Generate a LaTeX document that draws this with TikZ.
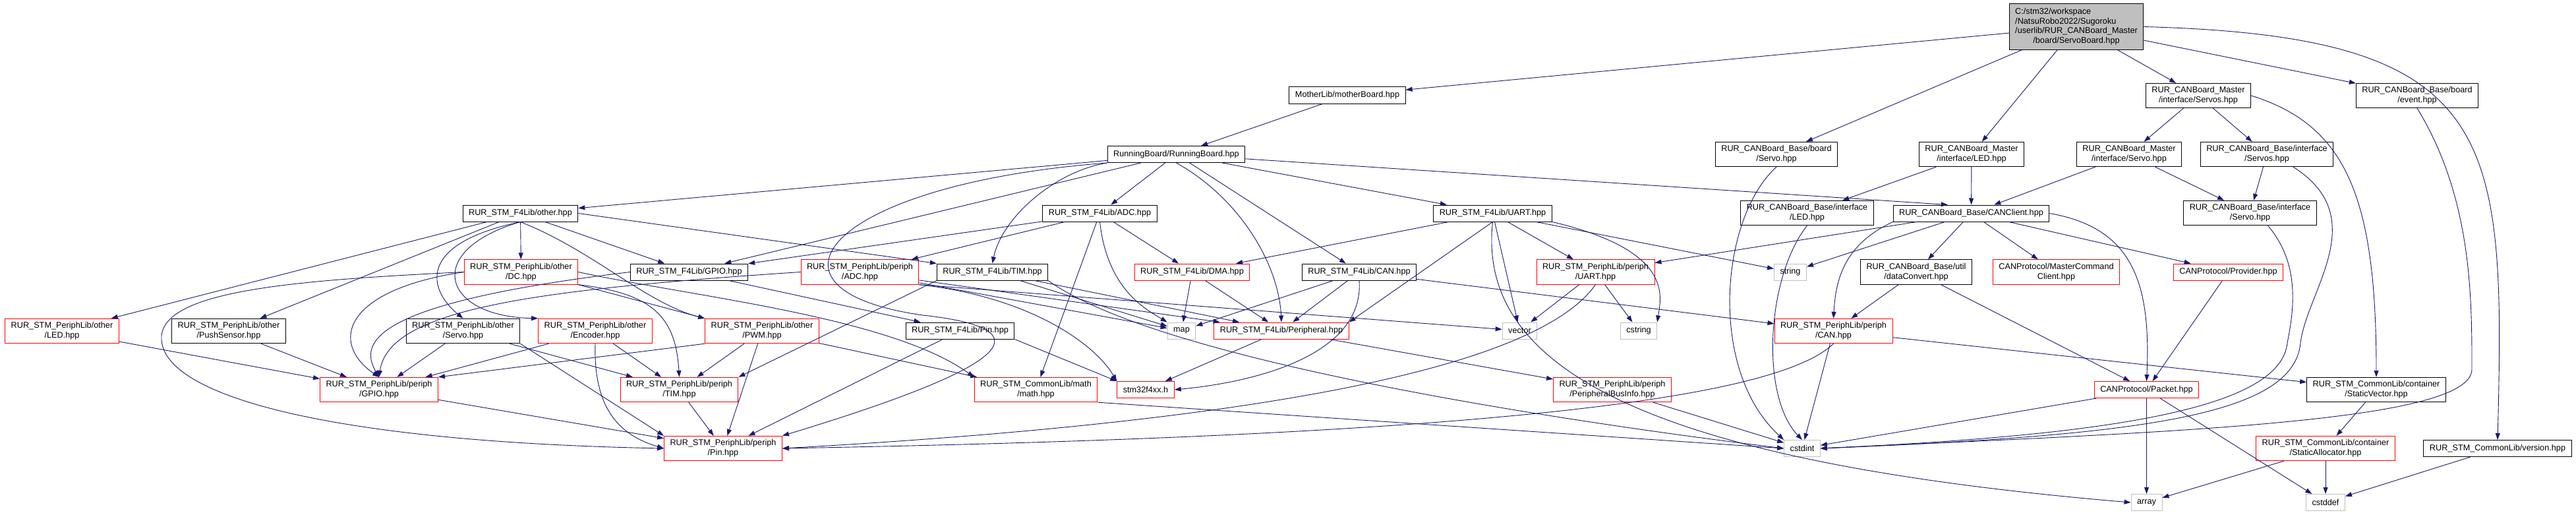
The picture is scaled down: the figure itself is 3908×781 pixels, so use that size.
\documentclass[tikz,border=0pt]{standalone}
\usepackage{fontspec}
\setmainfont{Liberation Sans}
\definecolor{EdgeBlue}{HTML}{191970}
\definecolor{SysGray}{HTML}{BFBFBF}
\definecolor{RootFill}{HTML}{BFBFBF}
\usepackage{tikz}
\usetikzlibrary{arrows.meta}
\tikzset{
  fnode/.style={draw=black, fill=white, line width=1pt, align=center, inner xsep=9pt, inner ysep=5.4pt, minimum height=25pt, font=\fontsize{12.7}{14.7}\selectfont},
  rnode/.style={fnode, draw=red},
  snode/.style={fnode, draw=SysGray},
  dep/.style={-{Triangle[length=10pt,width=7pt]}, draw=EdgeBlue, line width=0.9pt}
}

\begin{document}
\begin{tikzpicture}[x=1pt, y=-1pt]
\useasboundingbox (0,0) rectangle (3908,781);

\node[fnode, fill=RootFill] (root) at (3150,40.5) {\begin{tabular}{@{}l@{}}C:/stm32/workspace\\/NatsuRobo2022/Sugoroku\\/userlib/RUR\_CANBoard\_Master\\\multicolumn{1}{@{}c@{}}{/board/ServoBoard.hpp}\end{tabular}};

\node[fnode] (motherboard) at (2044,144.5) {MotherLib/motherBoard.hpp};
\node[fnode] (masterservos) at (3335,145) {RUR\_CANBoard\_Master\\/interface/Servos.hpp};
\node[fnode] (event) at (3667,145) {RUR\_CANBoard\_Base/board\\/event.hpp};

\node[fnode] (runningboard) at (1784.5,234) {RunningBoard/RunningBoard.hpp};
\node[fnode] (baseboardservo) at (2695,234) {RUR\_CANBoard\_Base/board\\/Servo.hpp};
\node[fnode] (masterled) at (2991,234) {RUR\_CANBoard\_Master\\/interface/LED.hpp};
\node[fnode] (masterservo) at (3230,234) {RUR\_CANBoard\_Master\\/interface/Servo.hpp};
\node[fnode] (baseservos) at (3439,234) {RUR\_CANBoard\_Base/interface\\/Servos.hpp};

\node[fnode] (other) at (789.5,323.5) {RUR\_STM\_F4Lib/other.hpp};
\node[fnode] (adcf4) at (1668.5,323.5) {RUR\_STM\_F4Lib/ADC.hpp};
\node[fnode] (uartf4) at (2264.5,323.5) {RUR\_STM\_F4Lib/UART.hpp};
\node[fnode] (baseled) at (2741.5,323) {RUR\_CANBoard\_Base/interface\\/LED.hpp};
\node[fnode] (canclient) at (2990.5,323.5) {RUR\_CANBoard\_Base/CANClient.hpp};
\node[fnode] (baseservo) at (3413.5,323) {RUR\_CANBoard\_Base/interface\\/Servo.hpp};

\node[rnode] (dc) at (790.5,412.5) {RUR\_STM\_PeriphLib/other\\/DC.hpp};
\node[fnode] (gpiof4) at (1045.5,412.5) {RUR\_STM\_F4Lib/GPIO.hpp};
\node[rnode] (adcp) at (1304.5,412.5) {RUR\_STM\_PeriphLib/periph\\/ADC.hpp};
\node[fnode] (timf4) at (1505.5,412.5) {RUR\_STM\_F4Lib/TIM.hpp};
\node[rnode] (dma) at (1808.5,412.5) {RUR\_STM\_F4Lib/DMA.hpp};
\node[fnode] (canf4) at (2062,412.5) {RUR\_STM\_F4Lib/CAN.hpp};
\node[rnode] (uartp) at (2420.5,412.5) {RUR\_STM\_PeriphLib/periph\\/UART.hpp};
\node[snode] (string) at (2716,412.5) {string};
\node[fnode] (dataconvert) at (2907,412.5) {RUR\_CANBoard\_Base/util\\/dataConvert.hpp};
\node[rnode] (mastercmd) at (3119.5,412.5) {CANProtocol/MasterCommand\\Client.hpp};
\node[rnode] (provider) at (3380.5,412.5) {CANProtocol/Provider.hpp};

\node[rnode] (ledo) at (94,502) {RUR\_STM\_PeriphLib/other\\/LED.hpp};
\node[fnode] (push) at (347,502) {RUR\_STM\_PeriphLib/other\\/PushSensor.hpp};
\node[fnode] (servoo) at (702.5,502) {RUR\_STM\_PeriphLib/other\\/Servo.hpp};
\node[rnode] (encoder) at (903,502) {RUR\_STM\_PeriphLib/other\\/Encoder.hpp};
\node[rnode] (pwm) at (1156,502) {RUR\_STM\_PeriphLib/other\\/PWM.hpp};
\node[fnode] (pinf4) at (1456.5,501.5) {RUR\_STM\_F4Lib/Pin.hpp};
\node[snode] (map) at (1792.5,501.5) {map};
\node[rnode] (peripheral) at (1944,501.5) {RUR\_STM\_F4Lib/Peripheral.hpp};
\node[snode] (vector) at (2305.5,501.5) {vector};
\node[snode] (cstring) at (2486,501.5) {cstring};
\node[rnode] (canp) at (2781.5,502) {RUR\_STM\_PeriphLib/periph\\/CAN.hpp};

\node[rnode] (gpiop) at (575,591) {RUR\_STM\_PeriphLib/periph\\/GPIO.hpp};
\node[rnode] (timp) at (1030.5,591) {RUR\_STM\_PeriphLib/periph\\/TIM.hpp};
\node[rnode] (math) at (1571.5,591) {RUR\_STM\_CommonLib/math\\/math.hpp};
\node[rnode] (stm) at (1738,591) {stm32f4xx.h};
\node[rnode] (businfo) at (2446,591) {RUR\_STM\_PeriphLib/periph\\/PeripheralBusInfo.hpp};
\node[rnode] (packet) at (3256.5,591) {CANProtocol/Packet.hpp};
\node[fnode] (staticvector) at (3605,591) {RUR\_STM\_CommonLib/container\\/StaticVector.hpp};

\node[rnode] (pinp) at (1097,680) {RUR\_STM\_PeriphLib/periph\\/Pin.hpp};
\node[snode] (cstdint) at (2734,680) {cstdint};
\node[rnode] (staticalloc) at (3528,680) {RUR\_STM\_CommonLib/container\\/StaticAllocator.hpp};
\node[fnode] (version) at (3789,680) {RUR\_STM\_CommonLib/version.hpp};

\node[snode] (array) at (3256.5,762) {array};
\node[snode] (cstddef) at (3528,762) {cstddef};

\draw[dep] (root) -- (motherboard);
\draw[dep] (root) -- (baseboardservo);
\draw[dep] (root) -- (masterled);
\draw[dep] (root) -- (masterservos);
\draw[dep] (root) -- (event);
\draw[dep] (root.east) .. controls (3790,55) and (3801,200) .. (version.north);
\draw[dep] (motherboard) -- (runningboard);

\draw[dep] (runningboard) -- (other);
\draw[dep] (runningboard) -- (gpiof4);
\draw[dep] (runningboard.south west) .. controls (1250,280) and (1130,440) .. (1400,478) .. controls (1600,500) and (1520,560) .. (pinp.north east);
\draw[dep] (runningboard.south west) .. controls (1600,260) and (1520,330) .. (timf4.north);
\draw[dep] (runningboard) -- (adcf4);
\draw[dep] (runningboard.south) .. controls (1880,300) and (1940,400) .. (peripheral.north);
\draw[dep] (runningboard) -- (canf4);
\draw[dep] (runningboard) -- (uartf4);
\draw[dep] (runningboard) -- (canclient.160);

\draw[dep] (masterservos) -- (masterservo);
\draw[dep] (masterservos) -- (baseservos);
\draw[dep] (masterservos.east) .. controls (3560,190) and (3605,300) .. (staticvector.north);
\draw[dep] (event.south) .. controls (3750,300) and (3750,450) .. (3750,560) .. controls (3750,640) and (3300,655) .. (cstdint.east);
\draw[dep] (version) -- (cstddef);
\draw[dep] (masterled) -- (baseled);
\draw[dep] (masterled) -- (canclient);
\draw[dep] (masterservo) -- (canclient);
\draw[dep] (masterservo) -- (baseservo);
\draw[dep] (baseservos) -- (baseservo);
\draw[dep] ([xshift=40pt]baseservos.south) .. controls (3600,330) and (3500,440) .. (3490,520) .. controls (3480,630) and (3250,660) .. (cstdint.east);
\draw[dep] ([xshift=27pt]baseservo.south) .. controls (3490,400) and (3480,470) .. (3470,520) .. controls (3460,620) and (3200,660) .. (cstdint.east);
\draw[dep] (baseboardservo.south) .. controls (2610,330) and (2590,560) .. (cstdint.north west);
\draw[dep] (baseled.south) .. controls (2680,420) and (2670,600) .. (cstdint.north);

\draw[dep] (canclient) -- (string);
\draw[dep] (canclient) -- (uartp);
\draw[dep] (canclient) -- (dataconvert);
\draw[dep] (canclient.south west) .. controls (2800,370) and (2785,420) .. (canp.north);
\draw[dep] (canclient) -- (mastercmd);
\draw[dep] (canclient) -- (provider);
\draw[dep] (canclient.east) .. controls (3230,345) and (3264,420) .. (packet.north);
\draw[dep] (dataconvert) -- (canp);
\draw[dep] (dataconvert) -- (packet);
\draw[dep] (provider) -- (packet);
\draw[dep] (canp) -- (cstdint);
\draw[dep] (canp.south) .. controls (2700,600) and (2300,660) .. (pinp.east);
\draw[dep] (canp) -- (staticvector);
\draw[dep] (packet) -- (array);
\draw[dep] (packet) -- (cstddef);
\draw[dep] (packet) -- (cstdint);
\draw[dep] (staticvector) -- (staticalloc);
\draw[dep] (staticalloc) -- (array);
\draw[dep] (staticalloc) -- (cstddef);

\draw[dep] (uartf4) -- (uartp);
\draw[dep] (uartf4) -- (vector);
\draw[dep] (uartf4.south east) .. controls (2540,380) and (2520,450) .. (cstring.north east);
\draw[dep] (uartf4) -- (string);
\draw[dep] (uartf4.south) -- (peripheral.north east);
\draw[dep] (uartf4) -- (dma);
\draw[dep] (uartf4.south) .. controls (2240,560) and (2500,700) .. (array.west);
\draw[dep] (uartp) -- (vector);
\draw[dep] (uartp) -- (cstring);
\draw[dep] (uartp.south) .. controls (2330,560) and (1900,640) .. (pinp.east);
\draw[dep] (canf4) -- (canp);
\draw[dep] (canf4) -- (peripheral);
\draw[dep] (canf4) -- (map);
\draw[dep] (canf4.south) .. controls (2070,540) and (1900,580) .. (stm.east);
\draw[dep] (peripheral) -- (businfo);
\draw[dep] (peripheral) -- (stm);
\draw[dep] (dma) -- (map);
\draw[dep] (dma) -- (peripheral);
\draw[dep] (businfo) -- (cstdint);
\draw[dep] (math.south east) -- (cstdint.west);

\draw[dep] (other) -- (ledo);
\draw[dep] (other) -- (push);
\draw[dep] (other.south) .. controls (630,370) and (650,440) .. (servoo.north);
\draw[dep] (other.south) .. controls (640,380) and (670,480) .. (encoder.north west);
\draw[dep] (other) -- (dc);
\draw[dep] (other.south) .. controls (900,380) and (980,460) .. (pwm.north west);
\draw[dep] (other) -- (gpiof4);
\draw[dep] (other.east) -- (timf4.north west);
\draw[dep] (ledo) -- (gpiop);
\draw[dep] (push) -- (gpiop);
\draw[dep] (servoo) -- (gpiop);
\draw[dep] (servoo) -- (timp);
\draw[dep] (servoo.south east) -- (pinp.north west);
\draw[dep] (encoder) -- (gpiop);
\draw[dep] (encoder) -- (timp);
\draw[dep] (encoder.south) .. controls (900,620) and (940,660) .. (pinp.west);
\draw[dep] (dc.west) .. controls (520,440) and (500,520) .. (gpiop.north);
\draw[dep] (dc.west) .. controls (450,425) and (250,440) .. (245,510) .. controls (240,600) and (500,670) .. (pinp.west);
\draw[dep] (dc.south east) -- (pwm.north west);
\draw[dep] (dc.south east) .. controls (990,445) and (1025,480) .. (timp.north);
\draw[dep] (dc.east) .. controls (1050,450) and (1350,480) .. (math.north west);
\draw[dep] (pwm.south west) -- (gpiop.north east);
\draw[dep] (pwm) -- (timp);
\draw[dep] (pwm) -- (pinp);
\draw[dep] (pwm) -- (math);
\draw[dep] (gpiof4.west) .. controls (560,460) and (545,520) .. (gpiop.north);
\draw[dep] (gpiof4) -- (pinf4);
\draw[dep] (gpiop) -- (pinp);
\draw[dep] (timp) -- (pinp);
\draw[dep] (pinf4) -- (pinp);
\draw[dep] (pinf4.south east) -- (stm.north west);
\draw[dep] (adcf4) -- (gpiof4);
\draw[dep] (adcf4) -- (adcp);
\draw[dep] (adcf4) -- (dma);
\draw[dep] (adcf4) -- (math);
\draw[dep] (adcf4.south) .. controls (1680,440) and (1740,470) .. (map.north west);
\draw[dep] (adcp.west) .. controls (800,440) and (590,470) .. (gpiop.north);
\draw[dep] (adcp) -- (map);
\draw[dep] (adcp) -- (peripheral);
\draw[dep] (adcp.south east) .. controls (1560,450) and (1660,520) .. (stm.north west);
\draw[dep] (adcp.south east) -- (vector);
\draw[dep] (timf4.south west) -- (timp.north east);
\draw[dep] (timf4) -- (map);
\draw[dep] (timf4) -- (peripheral);
\draw[dep] (timf4.south east) .. controls (1750,540) and (2300,630) .. (cstdint.west);
\end{tikzpicture}
\end{document}
